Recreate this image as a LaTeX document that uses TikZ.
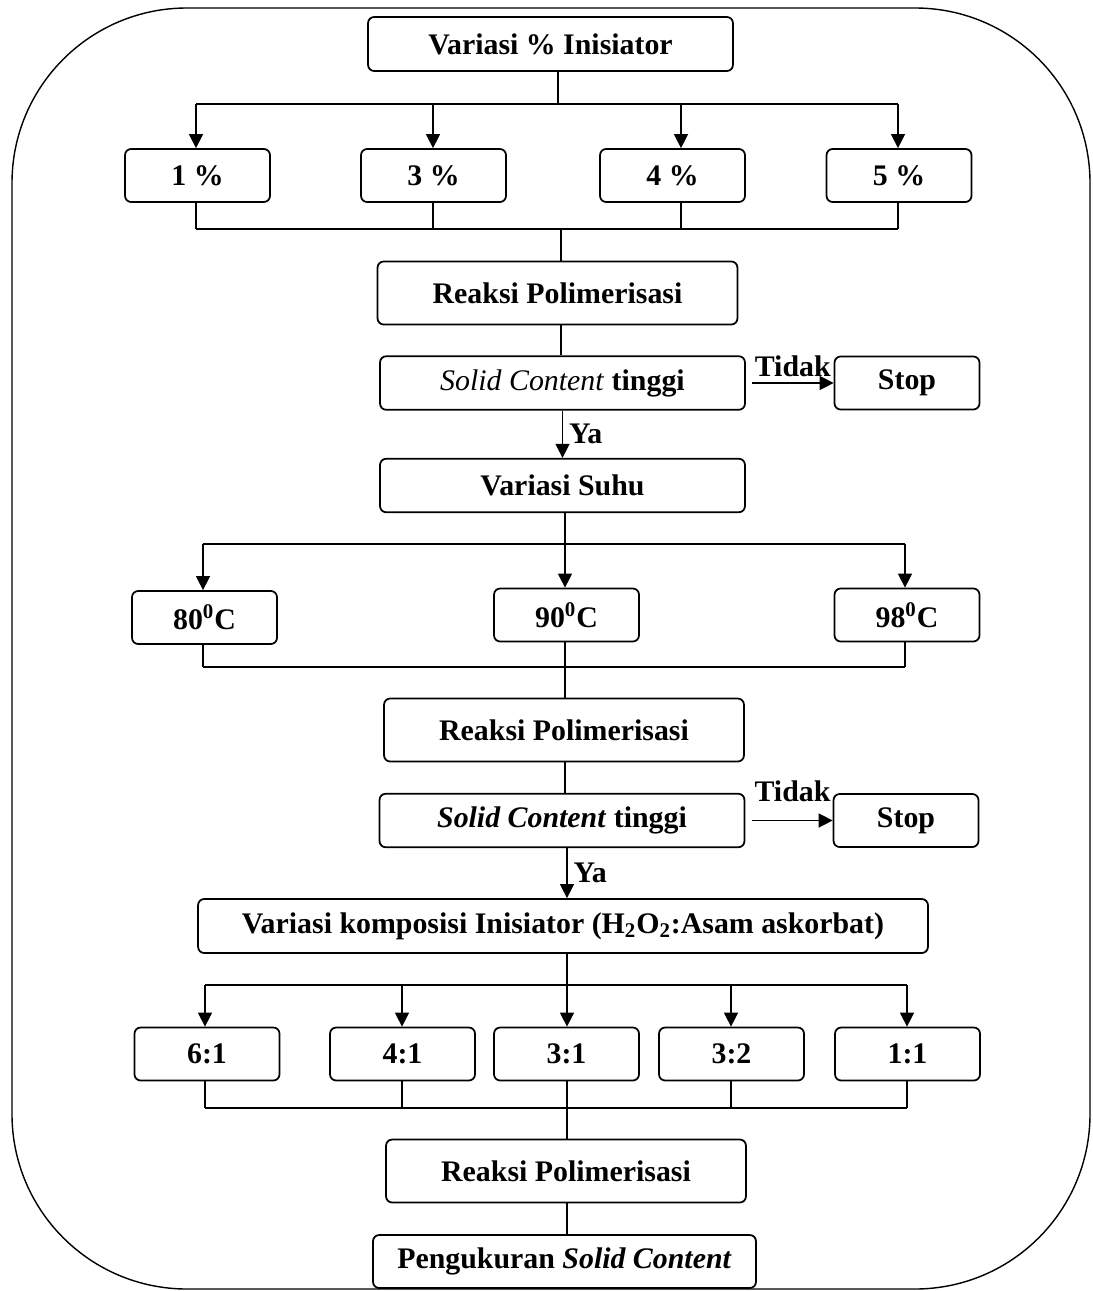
\documentclass[tikz,border=0pt]{standalone}
\usepackage{fontspec}
\setmainfont{Liberation Serif}
\usepackage{tikz}
\usetikzlibrary{positioning,arrows.meta}

\tikzset{
	proses/.style={draw, line width=1pt, rounded corners=3.5pt, align=center,
		inner sep=0pt, font=\fontsize{17}{20}\selectfont\bfseries},
	kecil/.style={minimum width=2.9cm, minimum height=1.06cm},
	lebar/.style={minimum width=7.3cm, minimum height=1.07cm},
	reaksi/.style={minimum width=7.2cm, minimum height=1.26cm},
	garis/.style={line width=0.8pt},
	panah/.style={garis, -{Triangle[length=8pt,width=8pt]}},
	ket/.style={font=\fontsize{17}{20}\selectfont\bfseries}
}

\begin{document}
\begin{tikzpicture}[x=0.02cm, y=-0.02cm]
	\useasboundingbox (0,0) rectangle (1092,1291);
	\draw[line width=0.8pt, rounded corners=3.5cm] (12,8) rectangle (1090,1289);

	% variasi % inisiator
	\node[proses, minimum width=7.3cm, minimum height=1.08cm] (vinis) at (550.5,44) {Variasi \% Inisiator};
	\node[proses, kecil] (p1) at (197.5,175.5) {1 \%};
	\node[proses, kecil] (p3) at (433.5,175.5) {3 \%};
	\node[proses, kecil] (p4) at (672.5,175.5) {4 \%};
	\node[proses, kecil] (p5) at (899,175.5) {5 \%};
	\node[proses, reaksi] (rp1) at (557.5,293) {Reaksi Polimerisasi};
	\node[proses, lebar] (sc1) at (562.5,383) {\textmd{\textit{Solid Content}} tinggi};
	\node[proses, kecil] (stop1) at (907,383) {Stop};

	\coordinate (j1) at (558,104);
	\coordinate (a1) at (196,104);
	\coordinate (a3) at (433,104);
	\coordinate (a4) at (681,104);
	\coordinate (a5) at (898,104);
	\draw[garis] (vinis.south -| j1) -- (j1);
	\draw[garis] (a1) -- (a5);
	\draw[panah] (a1) -- (a1 |- p1.north);
	\draw[panah] (a3) -- (a3 |- p3.north);
	\draw[panah] (a4) -- (a4 |- p4.north);
	\draw[panah] (a5) -- (a5 |- p5.north);

	\coordinate (b1) at (196,229);
	\coordinate (b3) at (433,229);
	\coordinate (b4) at (681,229);
	\coordinate (b5) at (898,229);
	\coordinate (k1) at (561,229);
	\draw[garis] (b1) -- (b5);
	\draw[garis] (p1.south -| b1) -- (b1);
	\draw[garis] (p3.south -| b3) -- (b3);
	\draw[garis] (p4.south -| b4) -- (b4);
	\draw[garis] (p5.south -| b5) -- (b5);
	\draw[garis] (k1) -- (k1 |- rp1.north);
	\draw[garis] (rp1.south -| k1) -- (k1 |- sc1.north);
	\draw[panah] ([xshift=0.12cm]sc1.east) -- node[ket, above]{Tidak} (stop1.west);

	% variasi suhu
	\node[proses, lebar] (vs) at (562.5,485.5) {Variasi Suhu};
	\node[proses, kecil] (t80) at (204.5,617.5) {80\textsuperscript{0}C};
	\node[proses, kecil] (t90) at (566.5,615) {90\textsuperscript{0}C};
	\node[proses, kecil] (t98) at (907,615) {98\textsuperscript{0}C};
	\node[proses, reaksi] (rp2) at (564,730) {Reaksi Polimerisasi};
	\node[proses, lebar] (sc2) at (562,820.5) {\textit{Solid Content} tinggi};
	\node[proses, kecil] (stop2) at (906,820.5) {Stop};

	\draw[panah] (sc1.south) -- node[ket, right]{Ya} (vs.north);

	\coordinate (c1) at (203,544);
	\coordinate (c2) at (565,544);
	\coordinate (c3) at (905,544);
	\draw[garis] (vs.south -| c2) -- (c2);
	\draw[garis] (c1) -- (c3);
	\draw[panah] (c1) -- (c1 |- t80.north);
	\draw[panah] (c2) -- (c2 |- t90.north);
	\draw[panah] (c3) -- (c3 |- t98.north);

	\coordinate (d1) at (203,667);
	\coordinate (d2) at (565,667);
	\coordinate (d3) at (905,667);
	\draw[garis] (d1) -- (d3);
	\draw[garis] (t80.south -| d1) -- (d1);
	\draw[garis] (t98.south -| d3) -- (d3);
	\draw[garis] (t90.south -| d2) -- (d2 |- rp2.north);
	\draw[garis] (rp2.south -| d2) -- (d2 |- sc2.north);
	\draw[panah] ([xshift=0.14cm]sc2.east) -- node[ket, above=7pt]{Tidak} (stop2.west);

	% variasi komposisi inisiator
	\node[proses, minimum width=14.6cm, minimum height=1.08cm] (vk) at (563,926)
		{Variasi komposisi Inisiator (H\textsubscript{2}O\textsubscript{2}:Asam askorbat)};
	\node[proses, kecil] (r61) at (207,1054) {6:1};
	\node[proses, kecil] (r41) at (402.5,1054) {4:1};
	\node[proses, kecil] (r31) at (566.5,1054) {3:1};
	\node[proses, kecil] (r32) at (731.5,1054) {3:2};
	\node[proses, kecil] (r11) at (907.5,1054) {1:1};
	\node[proses, reaksi] (rp3) at (566,1171) {Reaksi Polimerisasi};
	\node[proses, minimum width=7.66cm, minimum height=1.06cm] (uk) at (564.5,1261.5)
		{Pengukuran \textit{Solid Content}};

	\coordinate (e1) at (205,985);
	\coordinate (e2) at (402,985);
	\coordinate (e3) at (567,985);
	\coordinate (e4) at (731,985);
	\coordinate (e5) at (907,985);
	\draw[panah] (sc2.south -| e3) -- node[ket, right]{Ya} (vk.north -| e3);
	\draw[garis] (vk.south -| e3) -- (e3);
	\draw[garis] (e1) -- (e5);
	\draw[panah] (e1) -- (e1 |- r61.north);
	\draw[panah] (e2) -- (e2 |- r41.north);
	\draw[panah] (e3) -- (e3 |- r31.north);
	\draw[panah] (e4) -- (e4 |- r32.north);
	\draw[panah] (e5) -- (e5 |- r11.north);

	\coordinate (f1) at (205,1108);
	\coordinate (f2) at (402,1108);
	\coordinate (f3) at (567,1108);
	\coordinate (f4) at (731,1108);
	\coordinate (f5) at (907,1108);
	\draw[garis] (f1) -- (f5);
	\draw[garis] (r61.south -| f1) -- (f1);
	\draw[garis] (r41.south -| f2) -- (f2);
	\draw[garis] (r32.south -| f4) -- (f4);
	\draw[garis] (r11.south -| f5) -- (f5);
	\draw[garis] (r31.south -| f3) -- (f3 |- rp3.north);
	\draw[garis] (rp3.south -| f3) -- (f3 |- uk.north);
\end{tikzpicture}
\end{document}
